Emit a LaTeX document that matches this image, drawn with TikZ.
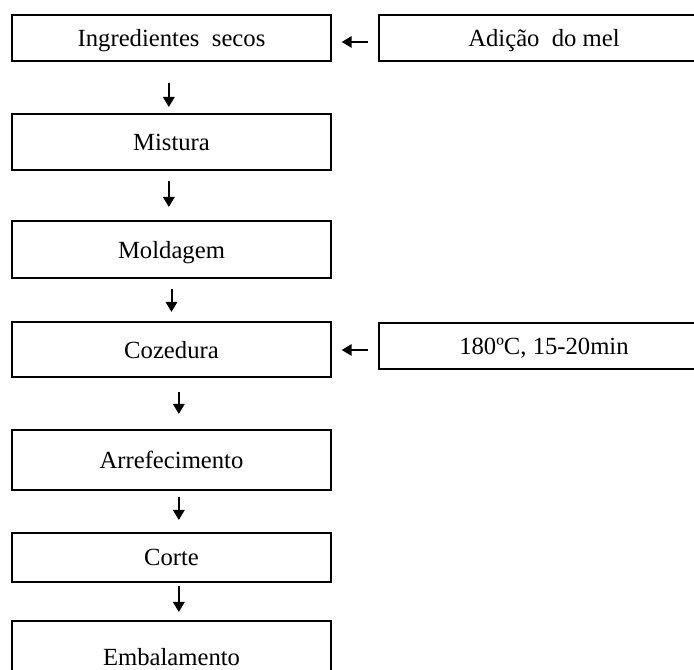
\documentclass[tikz,border=0pt]{standalone}
\usepackage{fontspec}
\setmainfont{Liberation Serif}
\usetikzlibrary{arrows.meta,positioning,calc}

\tikzset{
  stepbox/.style={draw,line width=1.1pt,outer sep=0pt,minimum width=239.25pt,inner sep=0pt,text depth=0pt,font=\fontsize{18.5}{22}\selectfont},
  sidebox/.style={stepbox,minimum width=247.5pt},
  flow/.style={-{Triangle[width=8.5pt,length=7.5pt]},line width=1.5pt}
}

\begin{document}
\begin{tikzpicture}[x=0.75pt,y=-0.75pt]
    \clip (0,0) rectangle (694,670);
    % main line
    \node[stepbox,minimum height=34.5pt] (secos) at (171.5,38) {Ingredientes\ \ secos};
    \node[stepbox,minimum height=42pt,below=39.75pt of secos] (mistura) {Mistura};
    \node[stepbox,minimum height=42.75pt,below=38.25pt of mistura] (molde) {Moldagem};
    \node[stepbox,minimum height=41.25pt,below=33pt of molde] (coze) {Cozedura};
    \node[stepbox,minimum height=45pt,below=39.75pt of coze] (arref) {Arrefecimento};
    \node[stepbox,minimum height=36.75pt,below=32.25pt of arref] (corte) {Corte};
    \node[stepbox,minimum height=54pt,below=29.25pt of corte] (embal) {Embalamento};
    % side inputs
    \node[sidebox,minimum height=34.5pt,right=36pt of secos.east,anchor=west] (mel) {Adição\ \ do mel};
    \node[sidebox,minimum height=34.5pt,anchor=north west] (temp) at ($(coze.north east)+(48,1)$) {180ºC, 15-20min};
    \draw[flow,shorten <=8pt,shorten >=8pt] ([yshift=-3pt]mel.west) -- ([yshift=-3pt]mel.west -| secos.east);
    \draw[flow,shorten <=8pt,shorten >=8pt] ([yshift=-3pt]temp.west) -- ([yshift=-3pt]temp.west -| coze.east);
    \draw[flow,shorten <=16.5pt,shorten >=5.25pt] ([xshift=-2pt]secos.south) -- ([xshift=-2pt]mistura.north);
    \draw[flow,shorten <=8.25pt,shorten >=10.5pt] ([xshift=-2pt]mistura.south) -- ([xshift=-2pt]molde.north);
    \draw[flow,shorten <=8.25pt,shorten >=7.5pt] (molde) -- (coze);
    \draw[flow,shorten <=11.25pt,shorten >=12pt] ([xshift=5.5pt]coze.south) -- ([xshift=5.5pt]arref.north);
    \draw[flow,shorten <=5.25pt,shorten >=9.75pt] ([xshift=5.5pt]arref.south) -- ([xshift=5.5pt]corte.north);
    \draw[flow,shorten <=3pt,shorten >=6.75pt] ([xshift=5.5pt]corte.south) -- ([xshift=5.5pt]embal.north);
\end{tikzpicture}
\end{document}
